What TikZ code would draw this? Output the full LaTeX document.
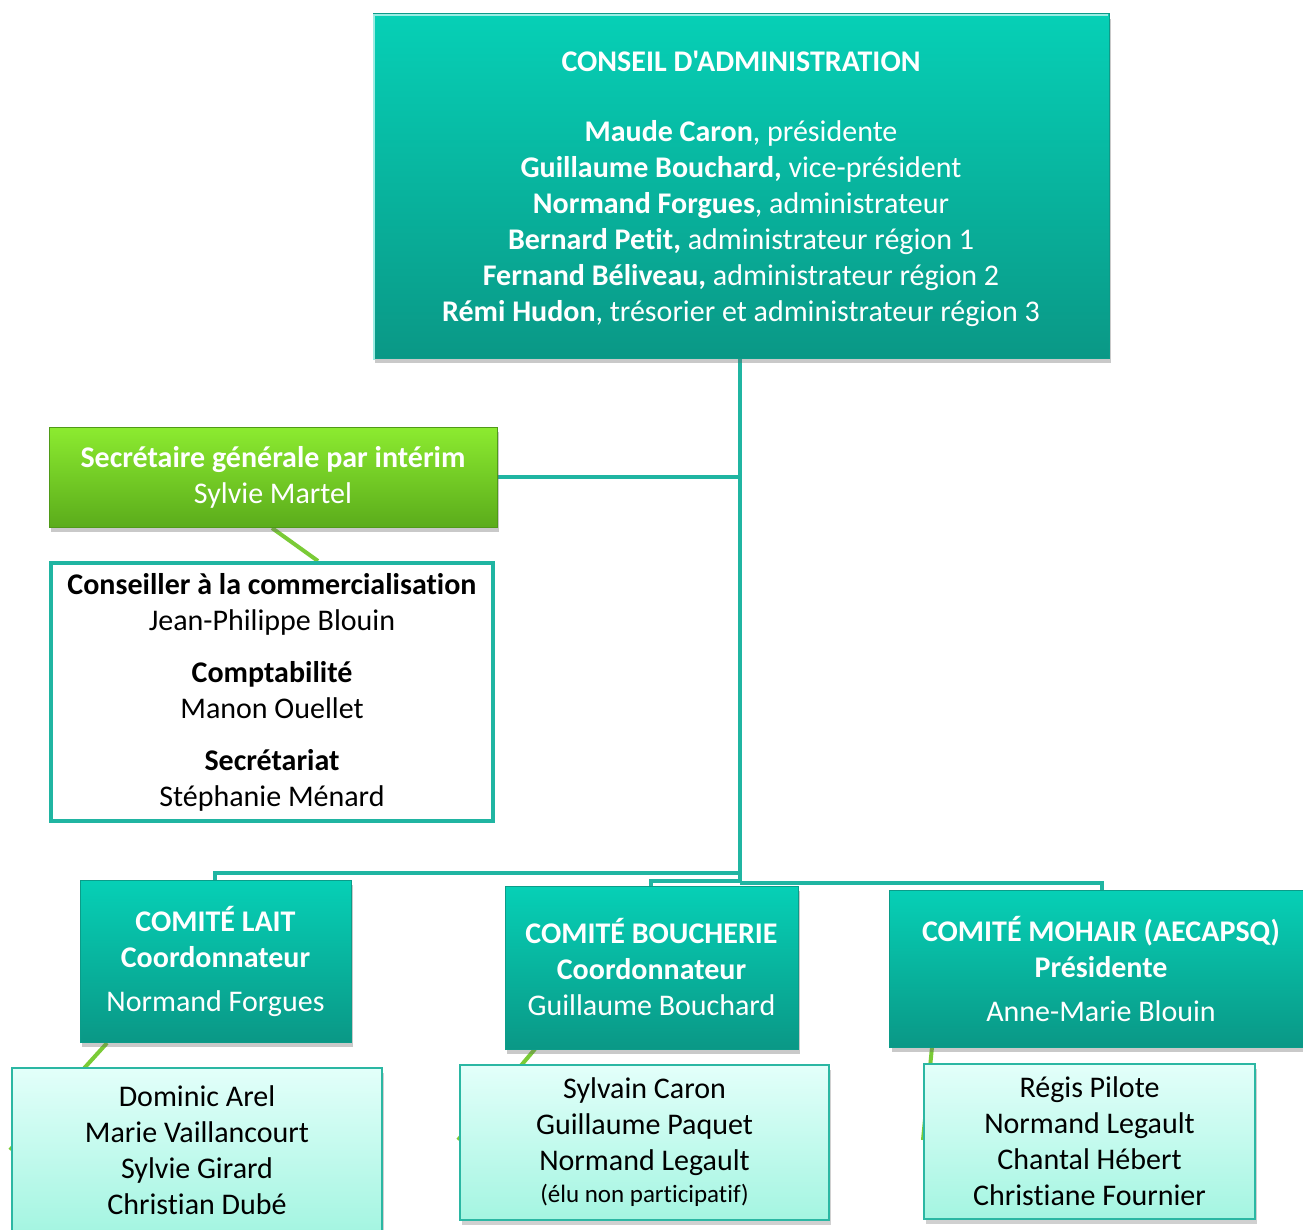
\documentclass[tikz,border=0pt]{standalone}
\usepackage{fontspec}
\setmainfont{Carlito}[Ligatures={TeXOff,NoCommon}]
\usetikzlibrary{shadows}
\definecolor{tealtop}{HTML}{06D0B6}
\definecolor{tealbot}{HTML}{0A9886}
\definecolor{tealedge}{HTML}{0B9C89}
\definecolor{conn}{HTML}{20B5A2}
\definecolor{grntop}{HTML}{8CEB30}
\definecolor{grnbot}{HTML}{5BAC1B}
\definecolor{grnedge}{HTML}{4F9A18}
\definecolor{glink}{HTML}{7ACB36}
\definecolor{litetop}{HTML}{E3FFFA}
\definecolor{litebot}{HTML}{A4F5E1}
\definecolor{liteedge}{HTML}{2BB7A3}
\tikzset{
  main/.style={rectangle, inner sep=0pt, top color=tealtop, bottom color=tealbot,
    draw=tealedge, line width=1pt, text=white, align=center,
    drop shadow={shadow xshift=2pt, shadow yshift=-5pt, opacity=0.35, fill=black!60}},
  greenbox/.style={rectangle, inner sep=0pt, top color=grntop, bottom color=grnbot,
    draw=grnedge, line width=1pt, text=white, align=center,
    drop shadow={shadow xshift=2pt, shadow yshift=-5pt, opacity=0.35, fill=black!60}},
  staffbox/.style={rectangle, inner sep=0pt, fill=white, draw=conn, line width=4pt,
    text=black, align=center},
  litebox/.style={rectangle, inner sep=0pt, top color=litetop, bottom color=litebot,
    draw=liteedge, line width=1.5pt, text=black, align=center,
    drop shadow={shadow xshift=2pt, shadow yshift=-5pt, opacity=0.3, fill=black!60}},
  link/.style={draw=conn, line width=4pt},
  glinkstyle/.style={draw=glink, line width=4pt},
  txt/.style={font=\fontsize{30}{36}\selectfont}
}
\begin{document}
\begin{tikzpicture}[x=1pt,y=-1pt]
\clip (0,0) rectangle (1303,1230);
\fill[white] (0,0) rectangle (1303,1230);

% green links (behind boxes)
\coordinate (ga1) at (272,528);
\coordinate (ga2) at (318,561);
\coordinate (gb1) at (107,1043);
\coordinate (gb2) at (10,1150);
\coordinate (gc1) at (535,1049);
\coordinate (gc2) at (458,1140);
\coordinate (gd1) at (932,1047);
\coordinate (gd2) at (923,1140);
\draw[glinkstyle] (ga1) -- (ga2);
\draw[glinkstyle] (gb1) -- (gb2);
\draw[glinkstyle] (gc1) -- (gc2);
\draw[glinkstyle] (gd1) -- (gd2);

% connectors
\coordinate (trunk) at (740,883);
\coordinate (jl) at (740,873);
\coordinate (jb) at (740,881);
\coordinate (js) at (740,477);
\coordinate (lt) at (215,880);
\coordinate (bt) at (651,886);
\coordinate (mt) at (1102,890);
\coordinate (tb) at (740,358);
\draw[link] (tb) -- (trunk);
\draw[link] (js) -- (497,477);
\draw[link] (jl) -| (lt);
\draw[link] (jb) -| (bt);
\draw[link] (trunk) -| (mt);

% top box
\node[main, minimum width=736pt, minimum height=344pt] (ca) at (741,186) {};
\node[txt, text=white, align=center] (catxt) at (741,189)
 {\textbf{CONSEIL D'ADMINISTRATION}\\[34pt]
  \textbf{Maude Caron}, présidente\\
  \textbf{Guillaume Bouchard,} vice-président\\
  \textbf{Normand Forgues}, administrateur\\
  \textbf{Bernard Petit,} administrateur région 1\\
  \textbf{Fernand Béliveau,} administrateur région 2\\
  \textbf{Rémi Hudon}, trésorier et administrateur région 3};
\draw[white!60!tealtop, line width=2pt] ([xshift=1.5pt,yshift=-1.5pt]ca.south west) -- ([xshift=1.5pt,yshift=-1.5pt]ca.north west) -- ([xshift=-1.5pt,yshift=-1.5pt]ca.north east);

% secretary
\node[greenbox, minimum width=448pt, minimum height=100pt, txt] (sec) at (273,477)
 {\textbf{Secrétaire générale par intérim}\\ Sylvie Martel};

% staff
\node[staffbox, minimum width=442pt, minimum height=258pt, txt] (staff) at (272,692)
 {\textbf{Conseiller à la commercialisation}\\ Jean-Philippe Blouin\\[16pt]
  \textbf{Comptabilité}\\ Manon Ouellet\\[16pt]
  \textbf{Secrétariat}\\ Stéphanie Ménard};

% committees
\node[main, minimum width=271pt, minimum height=162pt, txt] (lait) at (215.5,961)
 {\textbf{COMITÉ LAIT}\\ \textbf{Coordonnateur}\\[8pt] Normand Forgues};
\node[main, minimum width=293pt, minimum height=163pt, txt] (bouch) at (651.5,967.5)
 {\textbf{COMITÉ BOUCHERIE}\\ \textbf{Coordonnateur}\\ Guillaume Bouchard};
\node[main, minimum width=424pt, minimum height=157pt, anchor=west] (moh) at (889,968.5) {};
\node[txt, text=white, align=center] (mohtxt) at (1101,969.5)
 {\textbf{COMITÉ MOHAIR (AECAPSQ)}\\ \textbf{Présidente}\\[8pt] Anne-Marie Blouin};

% members
\node[litebox, minimum width=370pt, minimum height=164pt, txt] (laitm) at (197,1150)
 {Dominic Arel\\ Marie Vaillancourt\\ Sylvie Girard\\ Christian Dubé};
\node[litebox, minimum width=369pt, minimum height=155pt, txt] (bouchm) at (644.5,1142.5)
 {Sylvain Caron\\ Guillaume Paquet\\ Normand Legault\\[-4pt]
  {\fontsize{25}{30}\selectfont (élu non participatif)}};
\node[litebox, minimum width=331pt, minimum height=155pt, txt] (mohm) at (1089.5,1141.5)
 {Régis Pilote\\ Normand Legault\\ Chantal Hébert\\ Christiane Fournier};
\end{tikzpicture}
\end{document}
